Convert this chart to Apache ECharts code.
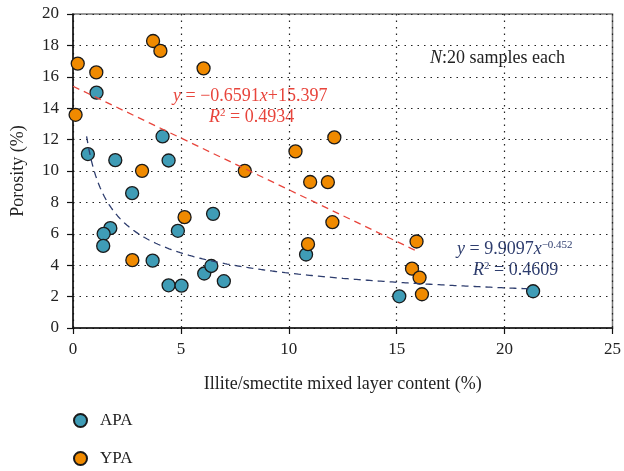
<!DOCTYPE html>
<html>
<head>
<meta charset="utf-8">
<script src="https://cdn.jsdelivr.net/npm/echarts@6/dist/echarts.min.js"></script>
<style>
  html, body { margin: 0; padding: 0; background: #fff; }
  #chart { width: 624px; height: 471px; }
</style>
</head>
<body>
<div id="chart"></div>
<script>
// Illite/smectite content (%) and porosity (%) per sample
const apaX = [1.09, 0.69, 4.15, 1.96, 4.43, 2.74, 6.49, 1.73, 1.42, 1.40, 4.86, 3.69, 4.43, 5.03, 6.08, 6.41, 6.99, 10.80, 15.12, 21.32];
const apaY = [14.99, 11.08, 12.20, 10.69, 10.67, 8.59, 7.27, 6.36, 6.00, 5.23, 6.19, 4.29, 2.72, 2.70, 3.47, 3.95, 2.98, 4.68, 2.02, 2.34];
const ypaX = [0.22, 1.08, 0.12, 3.71, 4.05, 6.05, 10.31, 12.11, 3.20, 7.96, 10.99, 11.81, 12.02, 5.17, 2.75, 10.89, 15.92, 15.71, 16.06, 16.17];
const ypaY = [16.84, 16.28, 13.58, 18.28, 17.65, 16.54, 11.25, 12.14, 10.01, 10.01, 9.30, 9.29, 6.74, 7.06, 4.32, 5.34, 5.51, 3.78, 3.21, 2.15];

// Fitted trends: YPA linear, APA power law
const ypaFit = { slope: -0.6591, intercept: 15.397, r2: '0.4934', from: 0, to: 15.85 };
const apaFit = { coef: 9.9097, exp: -0.452, r2: '0.4609', from: 0.63, to: 21.3 };

const xTicks = [0, 5, 10, 15, 20, 25];
const yTicks = [0, 2, 4, 6, 8, 10, 12, 14, 16, 18, 20];

const pairs = (xs, ys) => xs.map((x, i) => [x, ys[i]]);

function sampleCurve(f, a, b, n) {
  const out = [];
  for (let i = 0; i <= n; i++) {
    const x = a + (b - a) * i / n;
    out.push([x, f(x)]);
  }
  return out;
}

const linePts = sampleCurve(x => ypaFit.slope * x + ypaFit.intercept, ypaFit.from, ypaFit.to, 2);
const powPts = sampleCurve(x => apaFit.coef * Math.pow(x, apaFit.exp), apaFit.from, apaFit.to, 200);

const SERIF = '"Liberation Serif", "DejaVu Serif", serif';
const BLUE = '#3f9cb6';
const ORANGE = '#f08a00';
const RED = '#e8453c';
const NAVY = '#2e3d6e';

function eqStyle(text, color) {
  return {
    text: text,
    font: '18px ' + SERIF, fill: color,
    rich: {
      i: { fontStyle: 'italic', fontFamily: SERIF, fontSize: 18, fill: color },
      s: { fontFamily: SERIF, fontSize: 11, fill: color, verticalAlign: 'top', padding: [0, 0, 8, 0] }
    }
  };
}

const legendCommon = {
  orient: 'horizontal', left: 73, padding: 0,
  itemWidth: 13, itemHeight: 13, icon: 'circle',
  textStyle: { fontFamily: SERIF, fontSize: 17, color: '#222', padding: [0, 0, 0, 8] }
};

const chart = echarts.init(document.getElementById('chart'));
chart.setOption({
  animation: false,
  backgroundColor: '#fff',
  textStyle: { fontFamily: SERIF },
  grid: {
    left: 73, right: 9, top: 14, bottom: 143,
    show: true, borderColor: '#777', borderWidth: 1.5
  },
  xAxis: {
    type: 'value', min: 0, max: 25, interval: 5,
    name: 'Illite/smectite mixed layer content (%)',
    nameLocation: 'middle', nameGap: 47,
    nameTextStyle: { fontFamily: SERIF, fontSize: 18, color: '#222' },
    axisLine: { lineStyle: { color: '#111', width: 1.5 } },
    axisTick: { show: true, inside: false, length: 6, lineStyle: { color: '#111', width: 1.2 } },
    axisLabel: { fontFamily: SERIF, fontSize: 17, color: '#222', margin: 13,
      formatter: v => xTicks.includes(v) ? String(v) : '' },
    splitLine: { show: true, lineStyle: { color: '#222', type: [1.5, 5], width: 1.2 } }
  },
  yAxis: {
    type: 'value', min: 0, max: 20, interval: 2,
    name: 'Porosity (%)',
    nameLocation: 'middle', nameGap: 46, nameRotate: 90,
    nameTextStyle: { fontFamily: SERIF, fontSize: 18, color: '#222' },
    axisLine: { show: true, lineStyle: { color: '#111', width: 1.5 } },
    axisTick: { show: true, inside: false, length: 6, lineStyle: { color: '#111', width: 1.2 } },
    axisLabel: { fontFamily: SERIF, fontSize: 17, color: '#222', margin: 14,
      formatter: v => yTicks.includes(v) ? String(v) : '' },
    splitLine: { show: true, lineStyle: { color: '#222', type: [1.5, 5], width: 1.2 } }
  },
  legend: [
    Object.assign({ data: ['APA'], top: 412 }, legendCommon),
    Object.assign({ data: ['YPA'], top: 450 }, legendCommon)
  ],
  series: [
    {
      name: 'APA', type: 'scatter', data: pairs(apaX, apaY),
      symbolSize: 13, z: 3,
      itemStyle: { color: BLUE, borderColor: '#1a1a1a', borderWidth: 1.3, opacity: 1 }
    },
    {
      name: 'YPA', type: 'scatter', data: pairs(ypaX, ypaY),
      symbolSize: 13, z: 3,
      itemStyle: { color: ORANGE, borderColor: '#1a1a1a', borderWidth: 1.3, opacity: 1 }
    },
    {
      name: 'YPA trend', type: 'line', data: linePts, showSymbol: false, z: 4,
      lineStyle: { color: RED, width: 1.3, type: [7, 5] }
    },
    {
      name: 'APA trend', type: 'line', data: powPts, showSymbol: false, z: 4,
      lineStyle: { color: NAVY, width: 1.3, type: [7, 5] }
    }
  ],
  graphic: [
    {
      type: 'text', left: 430, top: 49,
      style: {
        text: '{i|N}:20 samples each',
        font: '18px ' + SERIF, fill: '#222',
        rich: { i: { fontStyle: 'italic', fontFamily: SERIF, fontSize: 18, fill: '#222' } }
      }
    },
    { type: 'text', left: 173, top: 87, style: eqStyle('{i|y} = \u22120.6591{i|x}+15.397', RED) },
    { type: 'text', left: 209, top: 108, style: eqStyle('{i|R}{s|2} = ' + ypaFit.r2, RED) },
    { type: 'text', left: 457, top: 240, style: eqStyle('{i|y} = 9.9097{i|x}{s|\u22120.452}', NAVY) },
    { type: 'text', left: 473, top: 261, style: eqStyle('{i|R}{s|2} = ' + apaFit.r2, NAVY) }
  ]
});
</script>
</body>
</html>
